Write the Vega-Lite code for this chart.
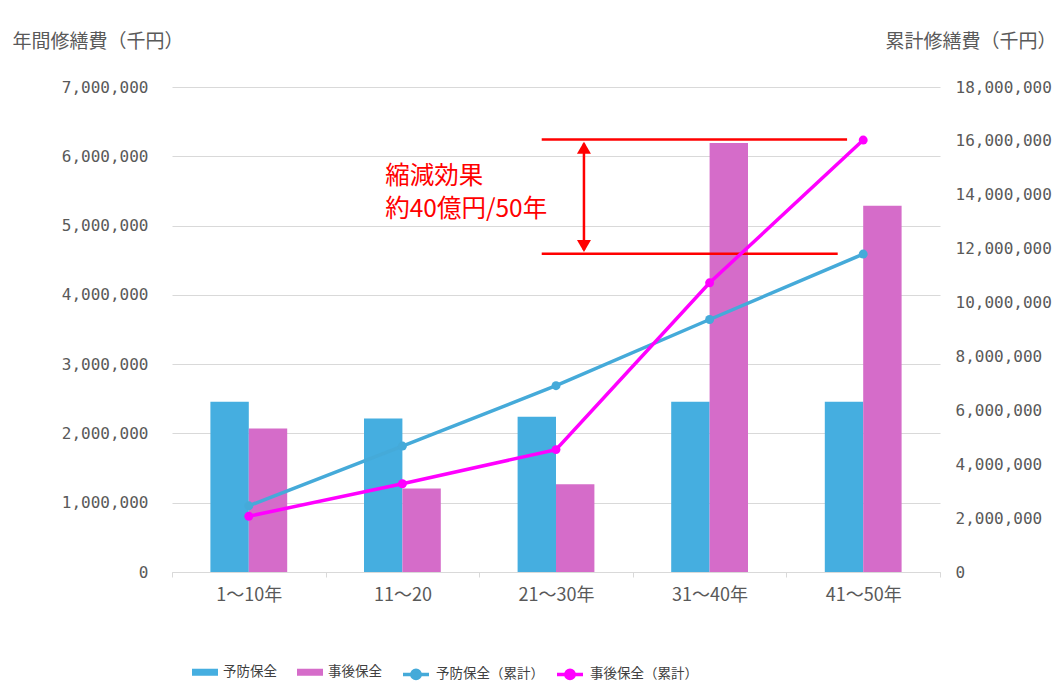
{
  "$schema": "https://vega.github.io/schema/vega-lite/v6.json",
  "width": 768,
  "height": 485,
  "autosize": {"type": "none"},
  "padding": {"left": 172, "top": 87, "right": 119, "bottom": 114},
  "background": "white",
  "config": {
    "view": {"stroke": null},
    "font": "Noto Sans CJK JP"
  },
  "datasets": {
    "bars": [
      {"period": "1～10年", "series": "予防保全", "value": 2457000},
      {"period": "1～10年", "series": "事後保全", "value": 2070000},
      {"period": "11～20", "series": "予防保全", "value": 2217000},
      {"period": "11～20", "series": "事後保全", "value": 1205000},
      {"period": "21～30年", "series": "予防保全", "value": 2240000},
      {"period": "21～30年", "series": "事後保全", "value": 1267000},
      {"period": "31～40年", "series": "予防保全", "value": 2457000},
      {"period": "31～40年", "series": "事後保全", "value": 6190000},
      {"period": "41～50年", "series": "予防保全", "value": 2457000},
      {"period": "41～50年", "series": "事後保全", "value": 5285000}
    ],
    "lines": [
      {"period": "1～10年", "series": "予防保全（累計）", "value": 2457000},
      {"period": "11～20", "series": "予防保全（累計）", "value": 4674000},
      {"period": "21～30年", "series": "予防保全（累計）", "value": 6914000},
      {"period": "31～40年", "series": "予防保全（累計）", "value": 9371000},
      {"period": "41～50年", "series": "予防保全（累計）", "value": 11800000},
      {"period": "1～10年", "series": "事後保全（累計）", "value": 2070000},
      {"period": "11～20", "series": "事後保全（累計）", "value": 3275000},
      {"period": "21～30年", "series": "事後保全（累計）", "value": 4542000},
      {"period": "31～40年", "series": "事後保全（累計）", "value": 10732000},
      {"period": "41～50年", "series": "事後保全（累計）", "value": 16030000}
    ]
  },
  "resolve": {"scale": {"x": "independent", "y": "independent"}},
  "layer": [
    {
      "data": {"name": "bars"},
      "mark": {"type": "bar"},
      "encoding": {
        "x": {
          "field": "period", "type": "nominal", "sort": null,
          "scale": {"paddingInner": 0, "paddingOuter": 0},
          "axis": {
            "orient": "bottom", "title": null, "labelAngle": 0,
            "tickBand": "extent", "ticks": true, "tickSize": 5, "tickColor": "#d9d9d9",
            "domain": true, "domainColor": "#d9d9d9", "grid": false,
            "labelFont": "Noto Sans CJK JP", "labelFontSize": 18, "labelColor": "#595959", "labelPadding": 9
          }
        },
        "xOffset": {
          "field": "series", "type": "nominal", "sort": ["予防保全", "事後保全"],
          "scale": {"paddingInner": 0, "paddingOuter": 1}
        },
        "y": {
          "field": "value", "type": "quantitative",
          "scale": {"domain": [0, 7000000], "nice": false},
          "axis": {
            "orient": "left",
            "values": [0, 1000000, 2000000, 3000000, 4000000, 5000000, 6000000, 7000000],
            "format": ",d", "grid": true, "gridColor": "#d9d9d9", "gridWidth": 1,
            "ticks": false, "domain": false,
            "labelFont": "DejaVu Sans Mono", "labelFontSize": 16, "labelColor": "#595959", "labelPadding": 24,
            "title": "年間修繕費（千円）", "titleAngle": 0, "titleX": -160, "titleY": -46,
            "titleAlign": "left", "titleBaseline": "middle", "titleFont": "Noto Sans CJK JP",
            "titleFontSize": 19, "titleFontWeight": "normal", "titleColor": "#595959"
          }
        },
        "color": {
          "field": "series", "type": "nominal",
          "scale": {"domain": ["予防保全", "事後保全"], "range": ["#45AEE0", "#D56CC9"]},
          "legend": {
            "title": null, "orient": "none", "legendX": 20, "legendY": 572, "direction": "horizontal",
            "padding": 0, "symbolSize": 676, "symbolType": "M-1,-0.27H1V0.27H-1Z", "symbolStrokeWidth": 0,
            "labelFont": "Noto Sans CJK JP", "labelFontSize": 13.5,
            "labelColor": "#404040", "labelOffset": 5, "columnPadding": 20
          }
        }
      }
    },
    {
      "data": {"values": [{}]},
      "mark": {"type": "rule", "color": "#FF0000", "strokeWidth": 2.5},
      "encoding": {
        "x": {"datum": 2.407, "type": "quantitative", "scale": {"domain": [0, 5], "nice": false, "zero": false}, "axis": null},
        "x2": {"datum": 4.395},
        "y": {"datum": 16050000, "type": "quantitative", "scale": {"domain": [0, 18000000], "nice": false}, "axis": null}
      }
    },
    {
      "data": {"values": [{}]},
      "mark": {"type": "rule", "color": "#FF0000", "strokeWidth": 2.5},
      "encoding": {
        "x": {"datum": 2.407, "type": "quantitative", "scale": {"domain": [0, 5], "nice": false, "zero": false}, "axis": null},
        "x2": {"datum": 4.334},
        "y": {"datum": 11810000, "type": "quantitative", "scale": {"domain": [0, 18000000], "nice": false}, "axis": null}
      }
    },
    {
      "data": {"values": [{}]},
      "mark": {"type": "rule", "color": "#FF0000", "strokeWidth": 2.5},
      "encoding": {
        "x": {"datum": 2.682, "type": "quantitative", "scale": {"domain": [0, 5], "nice": false, "zero": false}, "axis": null},
        "y": {"datum": 15900000, "type": "quantitative", "scale": {"domain": [0, 18000000], "nice": false}, "axis": null},
        "y2": {"datum": 11950000}
      }
    },
    {
      "data": {"values": [{}]},
      "mark": {"type": "point", "filled": true, "color": "#FF0000", "opacity": 1, "size": 196, "shape": "M0,-0.85L1,0.85L-1,0.85Z"},
      "encoding": {
        "x": {"datum": 2.682, "type": "quantitative", "scale": {"domain": [0, 5], "nice": false, "zero": false}, "axis": null},
        "y": {"datum": 15745000, "type": "quantitative", "scale": {"domain": [0, 18000000], "nice": false}, "axis": null}
      }
    },
    {
      "data": {"values": [{}]},
      "mark": {"type": "point", "filled": true, "color": "#FF0000", "opacity": 1, "size": 196, "shape": "M0,0.85L1,-0.85L-1,-0.85Z"},
      "encoding": {
        "x": {"datum": 2.682, "type": "quantitative", "scale": {"domain": [0, 5], "nice": false, "zero": false}, "axis": null},
        "y": {"datum": 12100000, "type": "quantitative", "scale": {"domain": [0, 18000000], "nice": false}, "axis": null}
      }
    },
    {
      "data": {"values": [{"note": "縮減効果\n約40億円/50年"}]},
      "mark": {"type": "text", "align": "left", "baseline": "middle", "lineBreak": "\n", "lineHeight": 33, "fontSize": 24.5, "color": "#FF0000", "font": "Noto Sans CJK JP"},
      "encoding": {
        "x": {"datum": 1.388, "type": "quantitative", "scale": {"domain": [0, 5], "nice": false, "zero": false}, "axis": null},
        "y": {"datum": 14660000, "type": "quantitative", "scale": {"domain": [0, 18000000], "nice": false}, "axis": null},
        "text": {"field": "note"}
      }
    },
    {
      "data": {"name": "lines"},
      "mark": {"type": "line", "strokeWidth": 3.5},
      "encoding": {
        "x": {"field": "period", "type": "nominal", "sort": null, "scale": {"paddingInner": 0, "paddingOuter": 0}, "axis": null},
        "y": {
          "field": "value", "type": "quantitative",
          "scale": {"domain": [0, 18000000], "nice": false},
          "axis": {
            "orient": "right",
            "values": [0, 2000000, 4000000, 6000000, 8000000, 10000000, 12000000, 14000000, 16000000, 18000000],
            "format": ",d", "grid": false, "ticks": false, "domain": false,
            "labelFont": "DejaVu Sans Mono", "labelFontSize": 16, "labelColor": "#595959", "labelPadding": 15,
            "title": "累計修繕費（千円）", "titleAngle": 0, "titleX": 116, "titleY": -46,
            "titleAlign": "right", "titleBaseline": "middle", "titleFont": "Noto Sans CJK JP",
            "titleFontSize": 19, "titleFontWeight": "normal", "titleColor": "#595959"
          }
        },
        "stroke": {
          "field": "series", "type": "nominal",
          "scale": {"domain": ["予防保全（累計）", "事後保全（累計）"], "range": ["#45AAD9", "#FF00FF"]},
          "legend": {
            "title": null, "orient": "none", "legendX": 229, "legendY": 572, "direction": "horizontal",
            "padding": 0, "symbolSize": 676,
            "symbolType": "M-1,0H1M0.32,0A0.32,0.32,0,1,1,-0.32,0A0.32,0.32,0,1,1,0.32,0Z",
            "symbolStrokeWidth": 3.5,
            "labelFont": "Noto Sans CJK JP", "labelFontSize": 13.5,
            "labelColor": "#404040", "labelOffset": 5, "columnPadding": 6
          }
        }
      }
    },
    {
      "data": {"name": "lines"},
      "mark": {"type": "point", "filled": true, "size": 80, "opacity": 1},
      "encoding": {
        "x": {"field": "period", "type": "nominal", "sort": null, "scale": {"paddingInner": 0, "paddingOuter": 0}, "axis": null},
        "y": {"field": "value", "type": "quantitative", "scale": {"domain": [0, 18000000], "nice": false}, "axis": null},
        "fill": {
          "field": "series", "type": "nominal",
          "scale": {"domain": ["予防保全（累計）", "事後保全（累計）"], "range": ["#45AAD9", "#FF00FF"]},
          "legend": null
        }
      }
    }
  ]
}
